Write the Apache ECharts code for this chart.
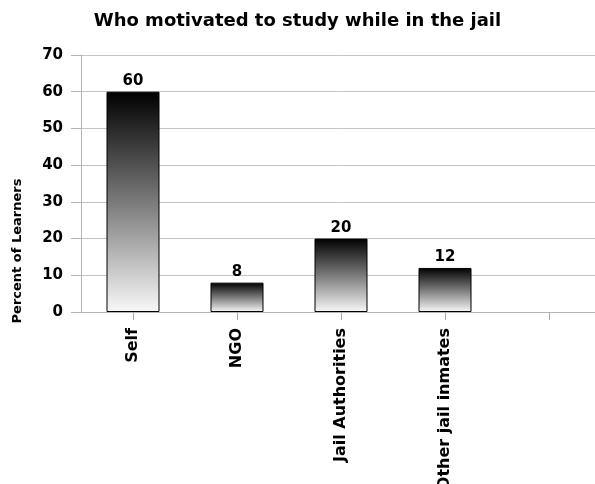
<!DOCTYPE html>
<html>
<head>
<meta charset="utf-8">
<script src="https://cdn.jsdelivr.net/npm/echarts@6/dist/echarts.min.js"></script>
<style>html,body{margin:0;padding:0;background:#fff;}#c{width:595px;height:484px;}</style>
</head>
<body>
<div id="c"></div>
<script>
const categories = ['Self', 'NGO', 'Jail Authorities', 'Other jail inmates', ''];
const values = [60, 8, 20, 12, null];
const yTicks = { min: 0, max: 70, interval: 10 };
const titleText = 'Who motivated to study while in the jail';
const yAxisName = 'Percent of Learners';

const chart = echarts.init(document.getElementById('c'));
const font = 'DejaVu Sans, sans-serif';
chart.setOption({
  animation: false,
  title: {
    text: titleText, left: 'center', top: 7,
    textStyle: { fontFamily: font, fontSize: 18, fontWeight: 'bold', color: '#000' }
  },
  grid: { left: 81, right: -6, top: 55, bottom: 172, containLabel: false, outerBoundsMode: 'none' },
  xAxis: {
    type: 'category', data: categories,
    axisLine: { lineStyle: { color: '#b4b4b4', width: 1 } },
    axisTick: { show: true, alignWithLabel: true, length: 8, lineStyle: { color: '#a8a8a8', width: 1 } },
    axisLabel: { rotate: 90, interval: 0, margin: 16, fontFamily: font, fontSize: 16, fontWeight: 'bold', color: '#000' }
  },
  yAxis: {
    type: 'value', min: yTicks.min, max: yTicks.max, interval: yTicks.interval,
    axisLine: { show: true, lineStyle: { color: '#b4b4b4' } },
    axisTick: { show: true, length: 10, lineStyle: { color: '#b4b4b4' } },
    splitLine: { lineStyle: { color: '#c4c4c4', width: 1 } },
    axisLabel: { margin: 18, fontFamily: font, fontSize: 15, fontWeight: 'bold', color: '#000' }
  },
  graphic: [{
    type: 'text', x: 18, y: 251, rotation: Math.PI / 2,
    style: { text: yAxisName, fontFamily: font, fontSize: 13, fontWeight: 'bold', fill: '#000', align: 'center', verticalAlign: 'middle' }
  }],
  series: [{
    type: 'bar', data: values, barWidth: 53,
    itemStyle: {
      borderColor: '#000', borderWidth: 1,
      color: new echarts.graphic.LinearGradient(0, 0, 0, 1, [
        { offset: 0, color: '#000000' },
        { offset: 0.5, color: '#7a7a7a' },
        { offset: 1, color: '#f8f8f8' }
      ])
    },
    label: { show: true, position: 'top', distance: 3, fontFamily: font, fontSize: 15, fontWeight: 'bold', color: '#000' }
  }]
});
</script>
</body>
</html>
